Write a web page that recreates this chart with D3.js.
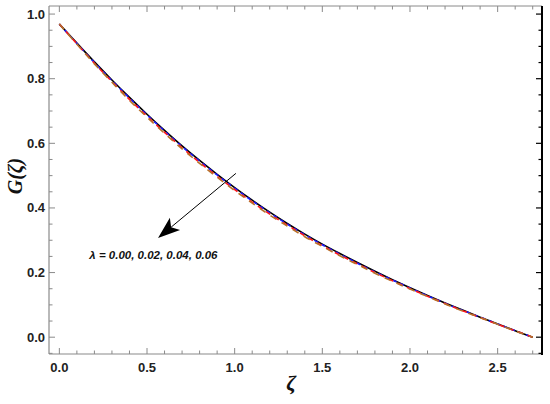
<!DOCTYPE html>
<html><head><meta charset="utf-8">
<script src="https://cdn.jsdelivr.net/npm/d3@7"></script>
<style>body{margin:0;background:#fff}svg{display:block}</style>
</head><body>
<svg id="c" width="550" height="404"></svg>
<script>
const zeta = [0.0,0.1,0.2,0.3,0.4,0.5,0.6,0.7,0.8,0.9,1.0,1.1,1.2,1.3,1.4,1.5,1.6,1.7,1.8,1.9,2.0,2.1,2.2,2.3,2.4,2.5,2.6,2.7];
const G000 = [0.969,0.910,0.852,0.796,0.742,0.690,0.640,0.592,0.547,0.504,0.463,0.424,0.387,0.352,0.319,0.288,0.259,0.231,0.204,0.178,0.153,0.129,0.106,0.084,0.062,0.041,0.020,0.0];
const G002 = [0.969,0.909,0.850,0.794,0.740,0.688,0.638,0.590,0.545,0.502,0.461,0.422,0.385,0.350,0.317,0.286,0.257,0.229,0.202,0.177,0.152,0.128,0.105,0.083,0.062,0.041,0.020,0.0];
const G004 = [0.969,0.908,0.848,0.791,0.736,0.684,0.634,0.586,0.541,0.498,0.457,0.418,0.381,0.347,0.314,0.283,0.254,0.227,0.200,0.175,0.150,0.127,0.104,0.082,0.061,0.040,0.020,0.0];
const G006 = [0.969,0.907,0.846,0.789,0.733,0.681,0.631,0.583,0.538,0.495,0.454,0.415,0.378,0.344,0.311,0.281,0.252,0.225,0.198,0.173,0.149,0.126,0.103,0.081,0.061,0.040,0.019,0.0];
const xTicks = [0.0,0.5,1.0,1.5,2.0,2.5];
const yTicks = [0.0,0.2,0.4,0.6,0.8,1.0];
const lambdaLabel = "λ = 0.00, 0.02, 0.04, 0.06";

const svg = d3.select("#c");
const L=49, R=542, T=6, B=354;
const x = d3.scaleLinear().domain([-0.059,2.753]).range([L,R]);
const y = d3.scaleLinear().domain([-0.052,1.025]).range([B,T]);

// frame
const gray="#8a8a8a";
svg.append("line").attr("x1",L).attr("x2",R).attr("y1",T).attr("y2",T).attr("stroke",gray).attr("stroke-width",1);
svg.append("line").attr("x1",L).attr("x2",R).attr("y1",B).attr("y2",B).attr("stroke",gray).attr("stroke-width",1.2);
svg.append("line").attr("x1",L).attr("x2",L).attr("y1",T).attr("y2",B).attr("stroke",gray).attr("stroke-width",1.2);
svg.append("line").attr("x1",R).attr("x2",R).attr("y1",T).attr("y2",B+1).attr("stroke","#000").attr("stroke-width",2);

const xMinor = d3.range(0,28).map(i=>i/10);
const yMinor = d3.range(-1,21).map(i=>i/20);
function isMajor(v,step){return Math.abs(v/step-Math.round(v/step))<1e-6;}

xMinor.forEach(v=>{
  const len = isMajor(v,0.5)?6:3.5;
  svg.append("line").attr("x1",x(v)).attr("x2",x(v)).attr("y1",B).attr("y2",B-len).attr("stroke",gray);
  svg.append("line").attr("x1",x(v)).attr("x2",x(v)).attr("y1",T).attr("y2",T+len).attr("stroke",gray);
});
yMinor.forEach(v=>{
  if (y(v)>B||y(v)<T) return;
  const len = isMajor(v,0.2)?6:3.5;
  svg.append("line").attr("x1",L).attr("x2",L+len).attr("y1",y(v)).attr("y2",y(v)).attr("stroke",gray);
  svg.append("line").attr("x1",R).attr("x2",R-len).attr("y1",y(v)).attr("y2",y(v)).attr("stroke","#000").attr("stroke-width",1.2);
});

const lblFont = "'Liberation Sans Narrow', 'Arial Narrow', 'Liberation Sans', Arial, sans-serif";
svg.append("g").selectAll("text").data(xTicks).join("text")
  .attr("x",d=>x(d)).attr("y",B+18).attr("text-anchor","middle")
  .attr("font-family",lblFont).attr("font-weight","bold").attr("font-size",13).attr("fill","#222")
  .text(d=>d.toFixed(1));
svg.append("g").selectAll("text").data(yTicks).join("text")
  .attr("x",L-4).attr("y",d=>y(d)+4.5).attr("text-anchor","end")
  .attr("font-family",lblFont).attr("font-weight","bold").attr("font-size",13).attr("fill","#222")
  .text(d=>d.toFixed(1));

svg.append("text").attr("transform","translate(22,176) rotate(-90)").attr("text-anchor","middle")
  .attr("font-family","Liberation Serif, Times New Roman, serif").attr("font-weight","bold").attr("font-style","italic")
  .attr("font-size",20).attr("fill","#111").text("G(ζ)");
svg.append("text").attr("x",291).attr("y",390).attr("text-anchor","middle")
  .attr("font-family","Liberation Serif, Times New Roman, serif").attr("font-style","italic").attr("font-weight","bold")
  .attr("font-size",22).attr("fill","#111").text("ζ");

const line = d3.line().x((d,i)=>x(zeta[i])).y(d=>y(d)).curve(d3.curveNatural);
const series = [
  {v:G000, c:"#000000", dash:null, w:1.6},
  {v:G002, c:"#1a1aff", dash:"4,4", w:1.6},
  {v:G004, c:"#ff1a1a", dash:"5,5", w:1.6},
  {v:G006, c:"#b8702a", dash:"7,6", w:1.6}
];
series.forEach(s=>{
  const p = svg.append("path").attr("d",line(s.v)).attr("fill","none").attr("stroke",s.c).attr("stroke-width",s.w);
  if (s.dash) p.attr("stroke-dasharray",s.dash);
});

const a0=[1.007,0.507], a1=[0.563,0.307];
const x0=x(a0[0]), y0=y(a0[1]), x1=x(a1[0]), y1=y(a1[1]);
const ang=Math.atan2(y1-y0,x1-x0);
const hl=22, hw=8, notch=5;
const bx=x1-hl*Math.cos(ang), by=y1-hl*Math.sin(ang);
svg.append("line").attr("x1",x0).attr("y1",y0).attr("x2",bx+notch*Math.cos(ang)).attr("y2",by+notch*Math.sin(ang)).attr("stroke","#000").attr("stroke-width",1);
const nx=-Math.sin(ang), ny=Math.cos(ang);
svg.append("path").attr("d",`M${x1},${y1}L${bx+hw*nx},${by+hw*ny}L${bx+notch*Math.cos(ang)},${by+notch*Math.sin(ang)}L${bx-hw*nx},${by-hw*ny}Z`).attr("fill","#000");

svg.append("text").attr("x",x(0.171)).attr("y",y(0.241)).attr("font-family","'Liberation Sans', Arial, sans-serif")
  .attr("font-weight","bold").attr("font-style","italic").attr("font-size",11.5).attr("fill","#111").text(lambdaLabel);
</script>
</body></html>
